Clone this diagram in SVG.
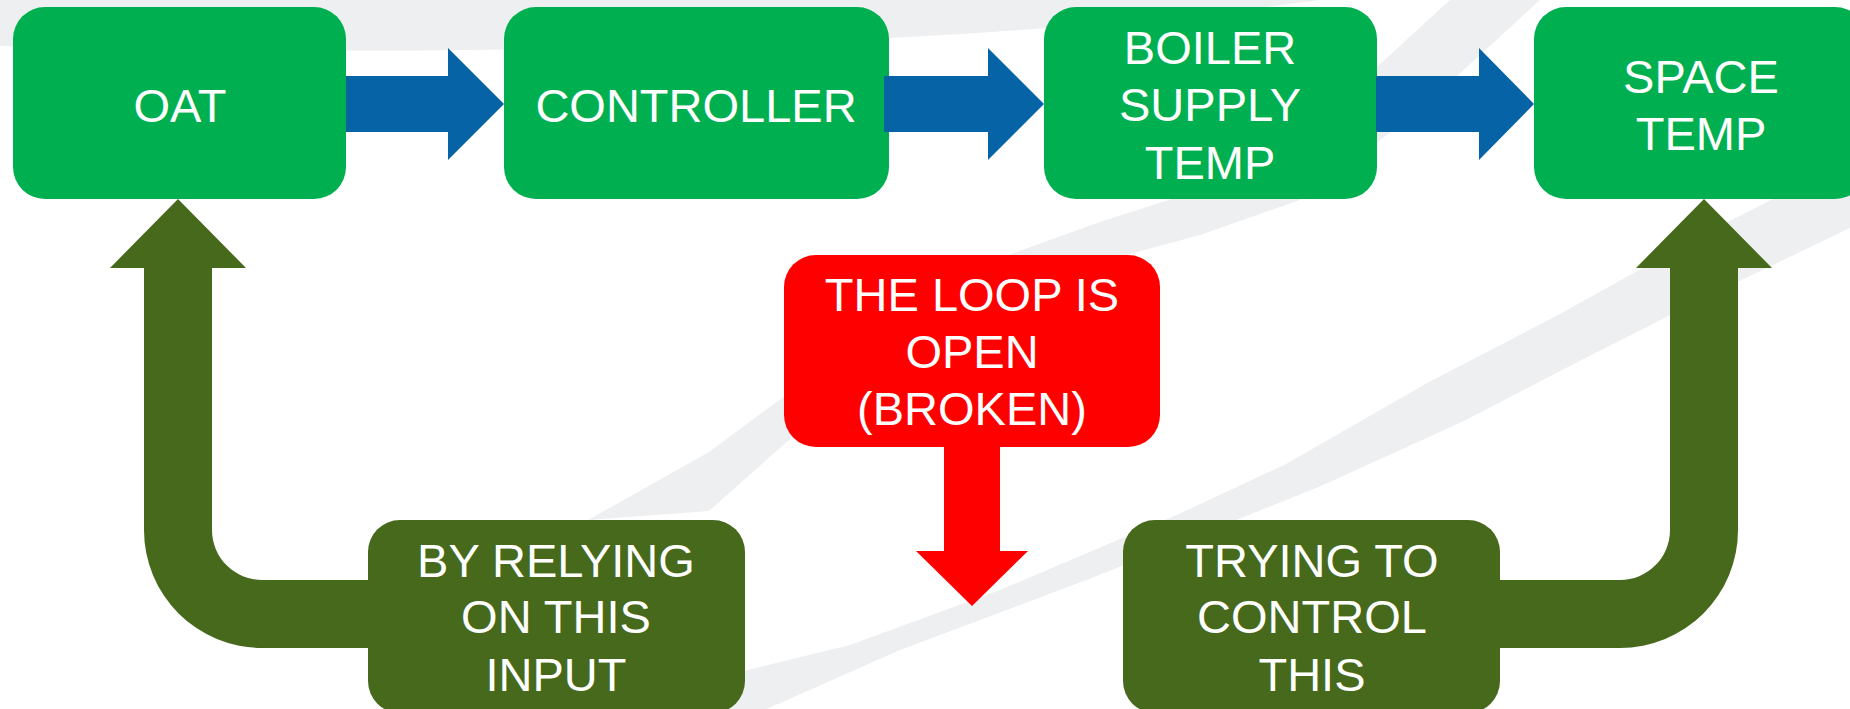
<svg xmlns="http://www.w3.org/2000/svg" width="1850" height="709" viewBox="0 0 1850 709">
<style>
.bg{fill:#EEEFF1;stroke:none}
.box{fill:#00B050}
.fb{fill:#46691C}
.rb{fill:#FF0000}
.blue{fill:#0563A6}
.olive{fill:#46691C}
.red{fill:#FF0000}
text{font-family:"Liberation Sans",Arial,sans-serif;font-size:47px;fill:#FFFFFF;text-anchor:middle}
</style>
<rect x="0" y="0" width="1850" height="709" fill="#FFFFFF"/>
<g id="background">
<path class="bg" d="M0,0 L0,46 C200,52 400,52 600,48 C800,44 950,36 1100,24 C1200,15 1260,8 1320,0 Z"/>
<path class="bg" d="M588,520 L709,452 L782,398 L900,320 L1000,258 L1100,222 L1200,190 L1330,110 L1450,0 L1540,0 L1420,110 L1300,200 L1200,235 L1100,262 L1000,298 L900,355 L800,430 L709,511 Z"/>
<path class="bg" d="M1850,160 L1700,236 L1560,314 L1429,382 L1286,464 L1179,514 L1000,590 L850,645 L740,672 L560,695 L366,712 L760,712 L900,650 L1089,579 L1321,486 L1464,421 L1560,371 L1700,300 L1850,228 Z"/>
</g>
<g id="n-oat">
<rect class="box" x="13" y="7" width="333" height="192" rx="32" ry="32"/>
<text x="180" y="122">OAT</text>
</g>
<g id="n-controller">
<rect class="box" x="504" y="7" width="385" height="192" rx="32" ry="32"/>
<text x="696" y="122">CONTROLLER</text>
</g>
<g id="n-boiler">
<rect class="box" x="1044" y="7" width="333" height="192" rx="32" ry="32"/>
<text x="1210" y="64">BOILER</text>
<text x="1210" y="121">SUPPLY</text>
<text x="1210" y="179">TEMP</text>
</g>
<g id="n-space">
<rect class="box" x="1534" y="7" width="333" height="192" rx="32" ry="32"/>
<text x="1701" y="93">SPACE</text>
<text x="1701" y="150">TEMP</text>
</g>
<g id="n-loop">
<rect class="rb" x="784" y="255" width="376" height="192" rx="32" ry="32"/>
<text x="972" y="311">THE LOOP IS</text>
<text x="972" y="368">OPEN</text>
<text x="972" y="425">(BROKEN)</text>
</g>
<g id="n-relying">
<rect class="fb" x="368" y="520" width="377" height="193" rx="32" ry="32"/>
<text x="556" y="577">BY RELYING</text>
<text x="556" y="633">ON THIS</text>
<text x="556" y="691">INPUT</text>
</g>
<g id="n-trying">
<rect class="fb" x="1123" y="520" width="377" height="193" rx="32" ry="32"/>
<text x="1312" y="577">TRYING TO</text>
<text x="1312" y="633">CONTROL</text>
<text x="1312" y="691">THIS</text>
</g>
<g id="connectors">
<polygon class="blue" points="346,76 448,76 448,48 504,104 448,160 448,132 346,132"/>
<polygon class="blue" points="884,76 988,76 988,48 1044,104 988,160 988,132 884,132"/>
<polygon class="blue" points="1376,76 1479,76 1479,48 1534,104 1479,160 1479,132 1376,132"/>
<path class="olive" d="M368,580 L262,580 A50,50 0 0 1 212,530 L212,268 L246,268 L178,199 L110,268 L144,268 L144,530 A118,118 0 0 0 262,648 L368,648 Z"/>
<path class="olive" d="M1500,580 L1620,580 A50,50 0 0 0 1670,530 L1670,268 L1636,268 L1704,199 L1772,268 L1738,268 L1738,530 A118,118 0 0 1 1620,648 L1500,648 Z"/>
<polygon class="red" points="944,447 1000,447 1000,551 1028,551 972,606 916,551 944,551"/>
</g>
</svg>
